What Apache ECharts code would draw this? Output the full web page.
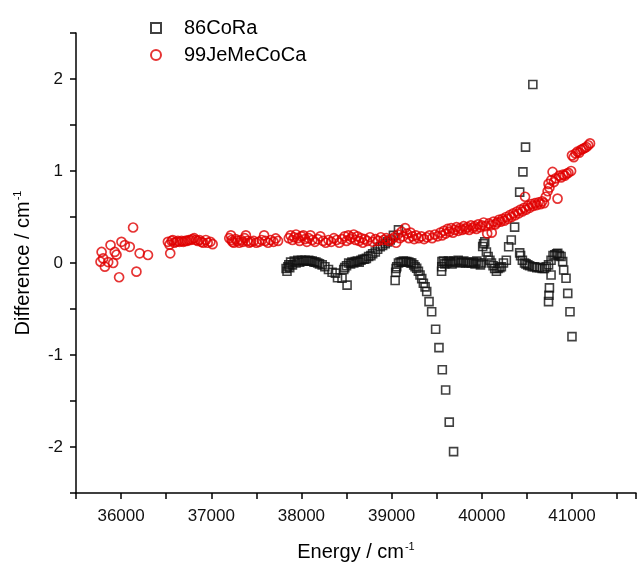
<!DOCTYPE html>
<html>
<head>
<meta charset="utf-8">
<script src="https://cdn.jsdelivr.net/npm/echarts@6/dist/echarts.min.js"></script>
<style>html,body{margin:0;padding:0;background:#fff;}#c{width:639px;height:569px;}</style>
</head>
<body>
<div id="c"></div>
<script>
// 86CoRa: [energy (cm-1), difference (cm-1)]
const coRa = [
  [37830,-0.06],[37840,-0.09],[37850,-0.04],[37860,-0.02],[37870,-0.05],[37880,0.01],[37900,-0.02],[37920,0.02],[37940,0.0],[37960,0.03],
  [37980,0.01],[38000,0.03],[38020,0.02],[38040,0.03],[38060,0.02],[38080,0.03],[38100,0.02],[38120,0.02],[38140,0.01],[38160,0.01],
  [38180,0.0],[38200,-0.01],[38230,-0.02],[38260,-0.04],[38300,-0.07],[38340,-0.10],[38377,-0.11],[38400,-0.16],[38450,-0.165],[38506,-0.24],
  [38469,-0.07],[38480,-0.05],[38500,-0.03],[38524,0.0],[38545,-0.01],[38560,0.01],[38580,0.0],[38597,0.015],[38620,0.02],[38640,0.01],
  [38660,0.03],[38680,0.04],[38700,0.04],[38720,0.05],[38745,0.07],[38770,0.08],[38790,0.10],[38819,0.12],[38845,0.15],[38874,0.176],
  [38900,0.19],[38929,0.21],[38955,0.23],[38984,0.25],[39020,0.30],[39076,0.36],
  [39039,-0.19],[39045,-0.10],[39050,-0.06],[39057,-0.04],[39076,0.0],[39095,0.01],[39113,0.01],[39130,0.02],[39150,0.015],[39168,0.015],
  [39190,0.01],[39210,0.0],[39223,0.0],[39245,-0.02],[39260,-0.04],[39278,-0.057],[39297,-0.09],[39315,-0.13],[39334,-0.17],[39352,-0.22],
  [39371,-0.26],[39389,-0.31],[39415,-0.42],[39444,-0.53],[39488,-0.72],[39525,-0.92],[39562,-1.16],[39599,-1.38],[39639,-1.73],[39687,-2.05],
  [39554,-0.09],[39556,-0.04],[39558,0.015],[39575,0.02],[39590,-0.01],[39610,0.0],[39630,0.02],[39650,0.01],[39670,-0.01],[39690,0.02],
  [39710,0.01],[39738,0.03],[39760,0.0],[39780,0.01],[39800,0.02],[39820,0.0],[39840,0.01],[39860,0.0],[39885,0.0],[39905,0.01],
  [39925,-0.01],[39945,0.02],[39965,0.0],[39985,-0.02],[39996,0.0],[40010,0.18],[40020,0.21],[40033,0.23],[40051,0.12],[40070,0.07],
  [40090,0.03],[40107,0.0],[40125,-0.03],[40143,-0.06],[40162,-0.09],[40180,-0.06],[40200,-0.05],[40217,-0.04],[40240,0.0],[40272,0.03],
  [40298,0.176],[40327,0.25],[40364,0.39],[40420,0.77],[40456,0.99],[40485,1.26],[40566,1.94],
  [40420,0.11],[40430,0.08],[40450,0.03],[40474,0.0],[40490,-0.01],[40510,-0.02],[40530,-0.03],[40560,-0.04],[40585,-0.04],[40610,-0.05],
  [40640,-0.05],[40670,-0.06],[40695,-0.06],[40715,-0.04],[40740,-0.02],[40768,0.03],[40790,0.08],[40810,0.09],[40830,0.10],[40842,0.105],
  [40860,0.08],[40879,0.07],
  [40768,-0.13],[40750,-0.27],[40745,-0.35],[40740,-0.42],
  [40897,0.015],[40908,-0.076],[40934,-0.165],[40953,-0.33],[40978,-0.53],[41000,-0.80]
];
// 99JeMeCoCa: [energy (cm-1), difference (cm-1)]
const jeMeCoCa = [
  [35772,0.014],[35784,0.12],[35801,0.05],[35820,-0.04],[35857,0.01],[35883,0.195],[35912,0.0],[35930,0.12],[35949,0.09],[35978,-0.155],
  [36004,0.23],[36041,0.195],[36096,0.176],[36133,0.386],[36170,-0.094],[36206,0.105],[36298,0.087],
  [36519,0.23],[36537,0.20],[36545,0.105],[36560,0.24],[36574,0.25],[36590,0.22],[36611,0.23],[36630,0.24],[36648,0.23],[36670,0.24],
  [36690,0.23],[36710,0.24],[36730,0.24],[36750,0.25],[36770,0.25],[36790,0.26],[36810,0.27],[36830,0.25],[36850,0.24],[36870,0.25],
  [36890,0.23],[36910,0.22],[36940,0.25],[36960,0.22],[36990,0.23],[37015,0.205],
  [37200,0.27],[37218,0.30],[37225,0.25],[37235,0.23],[37250,0.22],[37270,0.26],[37290,0.24],[37310,0.22],[37330,0.25],[37350,0.23],
  [37370,0.27],[37384,0.30],[37400,0.24],[37420,0.22],[37440,0.23],[37470,0.24],[37500,0.22],[37530,0.23],[37560,0.25],[37586,0.30],
  [37600,0.24],[37630,0.22],[37660,0.25],[37690,0.23],[37715,0.267],[37740,0.24],
  [37860,0.27],[37880,0.30],[37900,0.25],[37920,0.28],[37940,0.31],[37960,0.27],[37980,0.24],[38000,0.29],[38020,0.30],[38040,0.26],
  [38060,0.23],[38080,0.27],[38100,0.30],[38120,0.25],[38150,0.23],[38180,0.26],[38210,0.29],[38240,0.24],[38270,0.22],[38300,0.25],
  [38330,0.23],[38360,0.27],[38390,0.25],[38420,0.22],[38450,0.26],[38480,0.29],[38500,0.24],[38520,0.30],[38540,0.26],[38560,0.28],
  [38580,0.31],[38600,0.25],[38620,0.29],[38640,0.24],[38660,0.27],[38680,0.22],[38700,0.26],[38730,0.24],[38760,0.28],[38790,0.23],
  [38820,0.26],[38850,0.24],[38880,0.28],[38910,0.25],[38940,0.27],[38970,0.24],[39000,0.26],[39030,0.28],[39050,0.22],[39070,0.31],
  [39090,0.27],[39110,0.34],[39130,0.29],[39150,0.38],[39170,0.32],[39190,0.27],[39210,0.33],[39230,0.29],[39250,0.26],[39270,0.30],
  [39300,0.27],[39330,0.29],[39360,0.26],[39390,0.28],[39420,0.30],[39450,0.27],[39480,0.31],[39510,0.29],[39540,0.33],[39560,0.30],
  [39580,0.35],[39600,0.32],[39620,0.37],[39640,0.34],[39660,0.38],[39680,0.33],[39700,0.36],[39720,0.39],[39740,0.35],[39760,0.38],
  [39780,0.36],[39800,0.40],[39820,0.37],[39840,0.39],[39860,0.36],[39880,0.41],[39900,0.38],[39920,0.40],[39940,0.37],[39960,0.42],
  [39980,0.39],[40000,0.41],[40020,0.44],[40040,0.40],[40060,0.32],[40080,0.43],[40100,0.41],[40110,0.33],[40130,0.45],[40150,0.42],
  [40170,0.44],[40190,0.47],[40210,0.45],[40230,0.48],[40250,0.46],[40270,0.50],[40290,0.48],[40310,0.52],[40330,0.50],[40350,0.54],
  [40370,0.52],[40390,0.56],[40410,0.54],[40430,0.58],[40450,0.56],[40470,0.60],[40480,0.72],[40490,0.58],[40510,0.62],[40530,0.60],
  [40550,0.64],[40570,0.62],[40590,0.65],[40610,0.63],[40630,0.66],[40650,0.64],[40670,0.67],[40690,0.65],[40710,0.72],[40730,0.78],
  [40740,0.86],[40750,0.82],[40770,0.90],[40785,0.99],[40800,0.88],[40820,0.92],[40840,0.70],[40860,0.95],[40880,0.93],[40900,0.96],
  [40920,0.95],[40940,0.97],[40960,0.98],[40990,1.00],[41000,1.17],[41020,1.15],[41040,1.19],[41060,1.21],[41080,1.20],[41100,1.23],
  [41120,1.24],[41140,1.25],[41160,1.26],[41180,1.28],[41200,1.30]
];
const seriesNames = ['86CoRa', '99JeMeCoCa'];
const xName = 'Energy / cm';
const yName = 'Difference / cm';
const unitSup = '-1';

const FONT = "'Liberation Sans', Arial, sans-serif";
const chart = echarts.init(document.getElementById('c'), null, {renderer: 'canvas'});
const supRich = {
  base: {fontSize: 20, fontFamily: FONT, color: '#000'},
  sup: {fontSize: 11, fontFamily: FONT, color: '#000', padding: [0, 0, 11, 1]}
};
chart.setOption({
  animation: false,
  backgroundColor: '#fff',
  grid: {left: 76, right: 0, top: 33, bottom: 76, containLabel: false},
  legend: {
    orient: 'vertical', left: 145, top: 13, itemWidth: 10, itemHeight: 10, itemGap: 7,
    textStyle: {fontSize: 20, fontFamily: FONT, color: '#000', padding: [0, 0, 0, 18]},
    data: seriesNames
  },
  xAxis: {
    type: 'value', min: 35500, max: 41710, interval: 500,
    name: '{base|' + xName + '}{sup|' + unitSup + '}', nameLocation: 'middle', nameGap: 48,
    nameTextStyle: {rich: supRich},
    axisLine: {show: true, onZero: false, lineStyle: {color: '#000', width: 1.5}},
    axisTick: {show: true, inside: false, length: 6, lineStyle: {color: '#000', width: 1.5}},
    axisLabel: {show: true, margin: 15, fontSize: 17, fontFamily: FONT, color: '#111',
      formatter: v => (v % 1000 === 0 ? String(v) : '')},
    splitLine: {show: false}
  },
  yAxis: {
    type: 'value', min: -2.5, max: 2.5, interval: 0.5,
    name: '{base|' + yName + '}{sup|' + unitSup + '}', nameLocation: 'middle', nameGap: 42, nameRotate: 90,
    nameTextStyle: {rich: supRich},
    axisLine: {show: true, onZero: false, lineStyle: {color: '#000', width: 1.5}},
    axisTick: {show: true, inside: false, length: 6, lineStyle: {color: '#000', width: 1.5}},
    axisLabel: {show: true, margin: 13, fontSize: 17, fontFamily: FONT, color: '#111',
      formatter: v => (Number.isInteger(v) ? String(v) : '')},
    splitLine: {show: false}
  },
  series: [
    {
      name: seriesNames[0], type: 'scatter', symbol: 'rect', symbolSize: 8,
      itemStyle: {color: 'rgba(255,255,255,0)', borderColor: '#111', borderWidth: 1.6},
      data: coRa, z: 2
    },
    {
      name: seriesNames[1], type: 'scatter', symbol: 'circle', symbolSize: 9,
      itemStyle: {color: 'rgba(255,255,255,0)', borderColor: '#e00000', borderWidth: 1.7},
      data: jeMeCoCa, z: 3
    }
  ]
});
</script>
</body>
</html>
